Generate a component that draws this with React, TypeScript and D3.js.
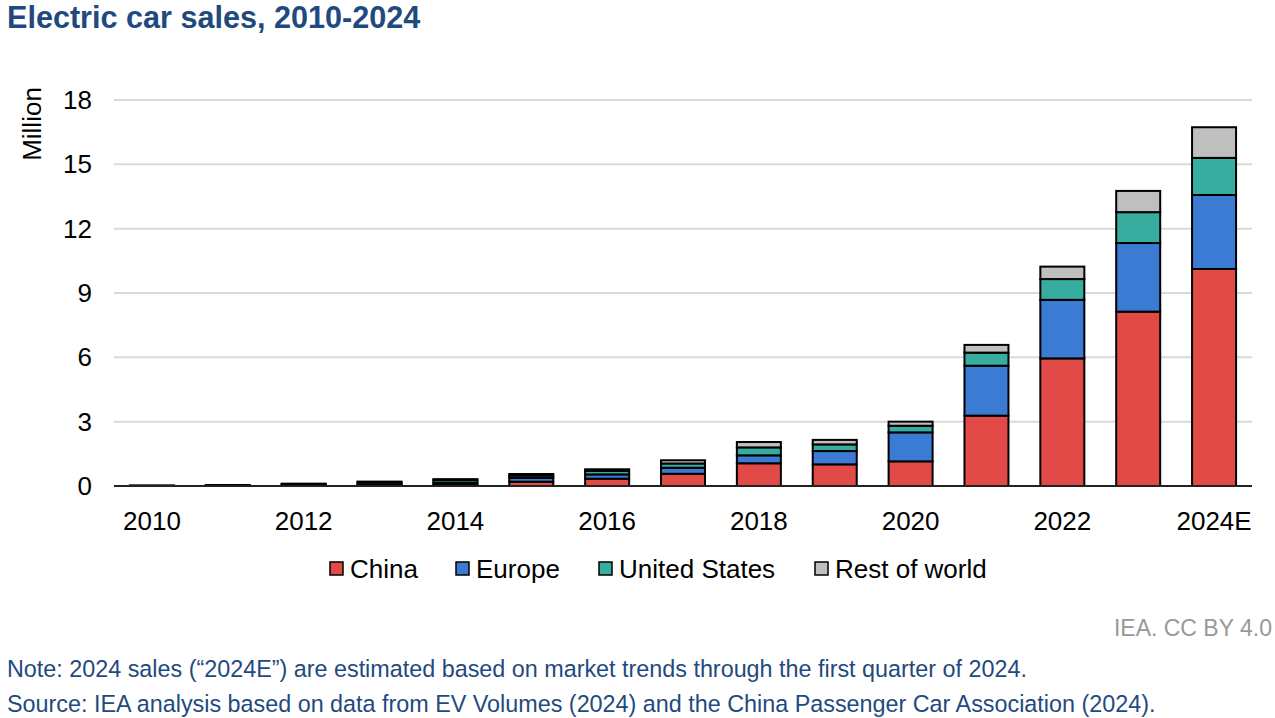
import React, { useEffect, useRef } from "react";
import * as d3 from "d3";

const years = ["2010","2011","2012","2013","2014","2015","2016","2017","2018","2019","2020","2021","2022","2023","2024E"];
const xTickLabels = ["2010","2012","2014","2016","2018","2020","2022","2024E"];
const china = [0.003, 0.005, 0.01, 0.015, 0.06, 0.2, 0.34, 0.57, 1.06, 1.01, 1.15, 3.28, 5.95, 8.13, 10.12];
const europe = [0.004, 0.01, 0.02, 0.06, 0.1, 0.18, 0.2, 0.28, 0.37, 0.62, 1.35, 2.33, 2.73, 3.2, 3.45];
const unitedStates = [0.004, 0.018, 0.05, 0.1, 0.12, 0.11, 0.16, 0.2, 0.37, 0.31, 0.31, 0.61, 0.97, 1.44, 1.73];
const restOfWorld = [0.009, 0.012, 0.03, 0.03, 0.04, 0.07, 0.08, 0.15, 0.25, 0.21, 0.19, 0.36, 0.58, 0.99, 1.43];
const seriesNames = ["China", "Europe", "United States", "Rest of world"];
const seriesColors = ["#e24a47", "#3b7bd3", "#36ad9f", "#bfbfbf"];
const yTicks = [0, 3, 6, 9, 12, 15, 18];

const FONT = "'Liberation Sans', Arial, sans-serif";

export default function App() {
  const ref = useRef<SVGSVGElement>(null);
  useEffect(() => {
    const svg = d3.select(ref.current);
    svg.selectAll("*").remove();
    const W = 1275, H = 718;
    const x = d3.scaleBand<string>().domain(years).range([114, 1252]).paddingInner(0.42).paddingOuter(0.21);
    const y = d3.scaleLinear().domain([0, 18]).range([486, 100]);

    svg.append("rect").attr("width", W).attr("height", H).attr("fill", "#fff");

    // title
    svg.append("text").attr("x", 7).attr("y", 28).attr("font-family", FONT).attr("font-weight", "bold")
      .attr("font-size", 30.6).attr("fill", "#1f4a80").text("Electric car sales, 2010-2024");

    // gridlines
    svg.append("g").selectAll("line").data(yTicks.filter(t => t > 0)).join("line")
      .attr("x1", 114).attr("x2", 1252).attr("y1", d => y(d)).attr("y2", d => y(d))
      .attr("stroke", "#d9d9d9").attr("stroke-width", 2);

    // y labels
    svg.append("g").selectAll("text").data(yTicks).join("text")
      .attr("x", 92).attr("y", d => y(d)).attr("dy", "0.35em").attr("text-anchor", "end")
      .attr("font-family", FONT).attr("font-size", 26).attr("fill", "#000").text(d => String(d));

    svg.append("text").attr("transform", "translate(41,124) rotate(-90)").attr("text-anchor", "middle")
      .attr("font-family", FONT).attr("font-size", 26).attr("fill", "#000").text("Million");

    // stacked bars
    const rows = years.map((yr, i) => ({ year: yr, China: china[i], Europe: europe[i], "United States": unitedStates[i], "Rest of world": restOfWorld[i] }));
    const stack = d3.stack<any>().keys(seriesNames)(rows);
    const g = svg.append("g");
    stack.forEach((layer, li) => {
      g.append("g").selectAll("rect").data(layer).join("rect")
        .attr("x", d => x(d.data.year)!)
        .attr("width", x.bandwidth())
        .attr("y", d => y(d[1]))
        .attr("height", d => Math.max(0, y(d[0]) - y(d[1])))
        .attr("fill", seriesColors[li])
        .attr("stroke", "#000").attr("stroke-width", 2);
    });

    // axis line
    svg.append("line").attr("x1", 114).attr("x2", 1252).attr("y1", y(0)).attr("y2", y(0))
      .attr("stroke", "#222").attr("stroke-width", 2);

    // x labels
    svg.append("g").selectAll("text").data(xTickLabels).join("text")
      .attr("x", d => x(d)! + x.bandwidth() / 2).attr("y", 521).attr("dy", "0.35em").attr("text-anchor", "middle")
      .attr("font-family", FONT).attr("font-size", 26).attr("fill", "#000").text(d => d);

    // legend
    const legendX = [330, 456, 599, 815];
    const lg = svg.append("g");
    seriesNames.forEach((name, i) => {
      lg.append("rect").attr("x", legendX[i]).attr("y", 562).attr("width", 13).attr("height", 13)
        .attr("fill", seriesColors[i]).attr("stroke", "#000").attr("stroke-width", 1.5);
      lg.append("text").attr("x", legendX[i] + 20).attr("y", 569).attr("dy", "0.35em")
        .attr("font-family", FONT).attr("font-size", 26).attr("fill", "#000").text(name);
    });

    svg.append("text").attr("x", 1272).attr("y", 628).attr("dy", "0.35em").attr("text-anchor", "end")
      .attr("font-family", FONT).attr("font-size", 23).attr("fill", "#999").text("IEA. CC BY 4.0");

    svg.append("text").attr("x", 7).attr("y", 669).attr("dy", "0.35em")
      .attr("font-family", FONT).attr("font-size", 23.35).attr("fill", "#1f4a80")
      .text("Note: 2024 sales (\u201c2024E\u201d) are estimated based on market trends through the first quarter of 2024.");
    svg.append("text").attr("x", 7).attr("y", 704).attr("dy", "0.35em")
      .attr("font-family", FONT).attr("font-size", 23.35).attr("fill", "#1f4a80")
      .text("Source: IEA analysis based on data from EV Volumes (2024) and the China Passenger Car Association (2024).");
  }, []);
  return <svg ref={ref} width={1275} height={718} style={{ position: "absolute", left: 0, top: 0 }} />;
}
